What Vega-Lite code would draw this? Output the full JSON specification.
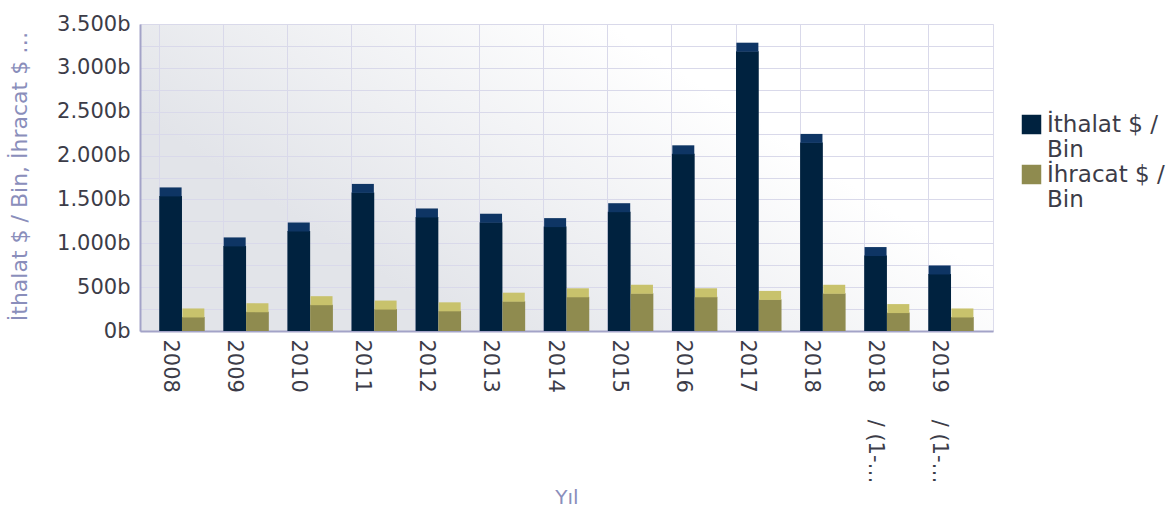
{
  "$schema": "https://vega.github.io/schema/vega-lite/v6.json",
  "autosize": {"type": "none"},
  "padding": {"left": 140, "top": 24, "right": 181, "bottom": 182},
  "width": 853,
  "height": 307,
  "background": "#ffffff",
  "config": {
    "font": "DejaVu Sans",
    "view": {
      "fill": {"gradient": "linear", "x1": 0, "y1": 0.3, "x2": 0.55, "y2": 0, "stops": [{"offset": 0, "color": "#e2e4e9"}, {"offset": 1, "color": "#ffffff"}]},
      "stroke": "#dcdcec"
    }
  },
  "data": {
    "values": [
      {"yil": "2008", "seri": "İthalat $ / Bin", "deger": 1540},
      {"yil": "2008", "seri": "İhracat $ / Bin", "deger": 160},
      {"yil": "2009", "seri": "İthalat $ / Bin", "deger": 970},
      {"yil": "2009", "seri": "İhracat $ / Bin", "deger": 220},
      {"yil": "2010", "seri": "İthalat $ / Bin", "deger": 1140},
      {"yil": "2010", "seri": "İhracat $ / Bin", "deger": 300},
      {"yil": "2011", "seri": "İthalat $ / Bin", "deger": 1580},
      {"yil": "2011", "seri": "İhracat $ / Bin", "deger": 250},
      {"yil": "2012", "seri": "İthalat $ / Bin", "deger": 1300},
      {"yil": "2012", "seri": "İhracat $ / Bin", "deger": 230},
      {"yil": "2013", "seri": "İthalat $ / Bin", "deger": 1240},
      {"yil": "2013", "seri": "İhracat $ / Bin", "deger": 340},
      {"yil": "2014", "seri": "İthalat $ / Bin", "deger": 1190},
      {"yil": "2014", "seri": "İhracat $ / Bin", "deger": 390},
      {"yil": "2015", "seri": "İthalat $ / Bin", "deger": 1360},
      {"yil": "2015", "seri": "İhracat $ / Bin", "deger": 430},
      {"yil": "2016", "seri": "İthalat $ / Bin", "deger": 2020},
      {"yil": "2016", "seri": "İhracat $ / Bin", "deger": 390},
      {"yil": "2017", "seri": "İthalat $ / Bin", "deger": 3190},
      {"yil": "2017", "seri": "İhracat $ / Bin", "deger": 360},
      {"yil": "2018", "seri": "İthalat $ / Bin", "deger": 2150},
      {"yil": "2018", "seri": "İhracat $ / Bin", "deger": 430},
      {"yil": "2018\u00a0\u00a0\u00a0 / (1-…", "seri": "İthalat $ / Bin", "deger": 860},
      {"yil": "2018\u00a0\u00a0\u00a0 / (1-…", "seri": "İhracat $ / Bin", "deger": 210},
      {"yil": "2019\u00a0\u00a0\u00a0 / (1-…", "seri": "İthalat $ / Bin", "deger": 650},
      {"yil": "2019\u00a0\u00a0\u00a0 / (1-…", "seri": "İhracat $ / Bin", "deger": 160}
    ]
  },
  "encoding": {
    "x": {
      "field": "yil", "type": "nominal", "sort": null,
      "scale": {"paddingInner": 0.29, "paddingOuter": 0.3},
      "axis": {
        "title": "Yıl", "titleColor": "#8a8ebb", "titleFontSize": 20, "titleFontWeight": "normal",
        "titleY": 166, "titleBaseline": "middle",
        "labelAngle": 90, "labelFontSize": 21, "labelColor": "#3c3c48", "labelPadding": 8, "labelOffset": -12,
        "bandPosition": 0, "grid": true, "gridColor": "#d9d9ea", "ticks": false,
        "domainColor": "#a3a3c8", "domainWidth": 2, "labelLimit": 300
      }
    },
    "y": {
      "field": "deger", "type": "quantitative",
      "scale": {"domain": [0, 3500], "nice": false},
      "axis": {
        "title": "İthalat $ / Bin, İhracat $ …", "titleColor": "#8a8ebb", "titleFontSize": 22, "titleFontWeight": "normal",
        "titleX": -121, "titleY": 152, "titleBaseline": "middle", "titleAlign": "center",
        "values": [0, 250, 500, 750, 1000, 1250, 1500, 1750, 2000, 2250, 2500, 2750, 3000, 3250, 3500],
        "labelExpr": "datum.value % 500 === 0 ? replace(format(datum.value, ','), ',', '.') + 'b' : ''",
        "labelFontSize": 21, "labelColor": "#3c3c48", "labelPadding": 10, "ticks": false,
        "gridColor": "#d9d9ea", "domainColor": "#a3a3c8", "domainWidth": 2
      }
    },
    "xOffset": {"field": "seri", "type": "nominal", "sort": ["İthalat $ / Bin", "İhracat $ / Bin"]}
  },
  "layer": [
    {
      "mark": {"type": "bar"},
      "encoding": {
        "color": {
          "field": "seri", "type": "nominal",
          "scale": {"domain": ["İthalat $ / Bin", "İhracat $ / Bin"], "range": ["#00223f", "#8f8b4f"]},
          "legend": {
            "title": null, "orient": "none", "legendX": 880, "legendY": 89,
            "symbolType": "square", "symbolSize": 380, "symbolStrokeWidth": 0,
            "labelFontSize": 23, "labelColor": "#3c3c48", "labelLimit": 200, "rowPadding": 1,
            "labelExpr": "[replace(datum.label, ' Bin', ''), 'Bin']",
            "encode": {"symbols": {"update": {"fill": {"signal": "datum.value === 'İthalat $ / Bin' ? '#1e416f' : '#efe68f'"}, "opacity": {"value": 1}}}}
          }
        }
      }
    },
    {
      "mark": {"type": "tick", "thickness": 9, "yOffset": -4, "size": 22, "opacity": 1},
      "encoding": {
        "color": {"condition": {"test": "datum.seri === 'İthalat $ / Bin'", "value": "#0e3564"}, "value": "#c8c26c"}
      }
    }
  ]
}
